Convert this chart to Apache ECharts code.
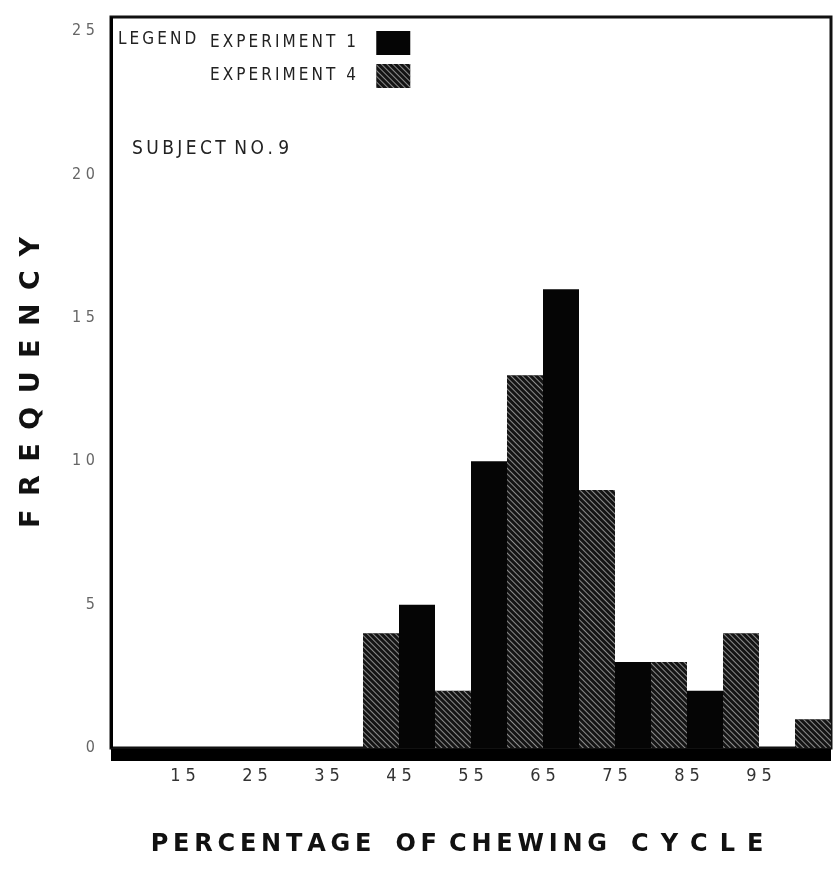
<!DOCTYPE html>
<html>
<head>
<meta charset="utf-8">
<script src="https://cdn.jsdelivr.net/npm/echarts@6/dist/echarts.min.js"></script>
<style>
html,body{margin:0;padding:0;background:#fff;}
#c{width:835px;height:871px;}
</style>
</head>
<body>
<div id="c"></div>
<script>
// bin centres (percentage of chewing cycle) and frequencies
const bins = [15, 25, 35, 45, 55, 65, 75, 85, 95, 105];
const exp1 = [0, 0, 0, 5, 10, 16, 3, 2, 0, null];
const exp4 = [0, 0, 0, 4, 2, 13, 9, 3, 4, 1];
const xTickLabels = ['15', '25', '35', '45', '55', '65', '75', '85', '95'];
const yTickLabels = ['0', '5', '10', '15', '20', '25'];

const narrow = '"Liberation Sans Narrow", "DejaVu Sans Condensed", "Liberation Sans", sans-serif';
const spaced = (s, sep) => s.split('').join(sep || '\u2009');

const hatch = {
  symbol: 'rect',
  symbolSize: 1,
  dashArrayX: [1, 0],
  dashArrayY: [1, 3],
  rotation: Math.PI / 4,
  color: '#8c8c8c'
};

const chart = echarts.init(document.getElementById('c'), null, {renderer: 'canvas'});
chart.setOption({
  backgroundColor: '#fff',
  animation: false,
  grid: {
    left: 111, right: 4, top: 17, bottom: 123,
    show: true, borderColor: '#111', borderWidth: 3, backgroundColor: 'transparent'
  },
  legend: {
    data: ['EXPERIMENT 1', 'EXPERIMENT 4'],
    orient: 'vertical',
    left: 205, top: 26,
    align: 'right',
    itemWidth: 34, itemHeight: 24, itemGap: 9,
    icon: 'rect',
    formatter: n => spaced(n) + '\u2002\u2002',
    textStyle: {fontFamily: narrow, fontSize: 17, color: '#222'}
  },
  xAxis: {
    type: 'value',
    min: 5, max: 105, interval: 10,
    offset: 7,
    name: spaced('PERCENTAGE') + '\u2002\u2002' + spaced('OF') + '\u2002' + spaced('CHEWING') + '\u2002\u2002' + spaced('CYCLE', '\u2002'),
    nameLocation: 'middle',
    nameGap: 78,
    nameTextStyle: {fontFamily: '"DejaVu Sans", sans-serif', fontWeight: 'bold', fontSize: 24, color: '#111', padding: [0, 28, 0, 0]},
    axisLine: {show: true, onZero: false, lineStyle: {color: '#000', width: 12, cap: 'butt'}},
    axisTick: {show: false},
    splitLine: {show: false},
    axisLabel: {
      margin: 12,
      fontFamily: narrow, fontSize: 18, color: '#333',
      formatter: v => xTickLabels.indexOf(String(v)) >= 0 ? spaced(String(v), ' ') : ''
    }
  },
  yAxis: {
    type: 'value',
    min: 0, max: 25.5, interval: 5,
    name: spaced('FREQUENCY', '\u2002'),
    nameLocation: 'middle',
    nameRotate: 90,
    nameGap: 66,
    nameTextStyle: {fontFamily: '"DejaVu Sans", sans-serif', fontWeight: 'bold', fontSize: 27, color: '#111'},
    axisLine: {show: true, lineStyle: {color: '#000', width: 3, cap: 'butt'}},
    axisTick: {show: false},
    splitLine: {show: false},
    axisLabel: {
      margin: 16,
      fontFamily: narrow, fontSize: 16, color: '#666',
      formatter: v => yTickLabels.indexOf(String(v)) >= 0 ? spaced(String(v), ' ') : ''
    }
  },
  graphic: [
    {type: 'text', left: 118, top: 31, style: {text: spaced('LEGEND'), fontFamily: narrow, fontSize: 17, fill: '#222'}},
    {type: 'text', left: 132, top: 140, style: {text: spaced('SUBJECT') + '\u2002' + spaced('NO.') + ' 9', fontFamily: narrow, fontSize: 19, fill: '#222'}}
  ],
  series: [
    {
      name: 'EXPERIMENT 4',
      type: 'bar',
      barGap: '0%',
      barCategoryGap: '0%',
      itemStyle: {color: '#141414', decal: hatch},
      data: bins.map((b, i) => [b, exp4[i]])
    },
    {
      name: 'EXPERIMENT 1',
      type: 'bar',
      barGap: '0%',
      barCategoryGap: '0%',
      itemStyle: {color: '#050505'},
      data: bins.map((b, i) => [b, exp1[i]])
    }
  ]
});
</script>
</body>
</html>
